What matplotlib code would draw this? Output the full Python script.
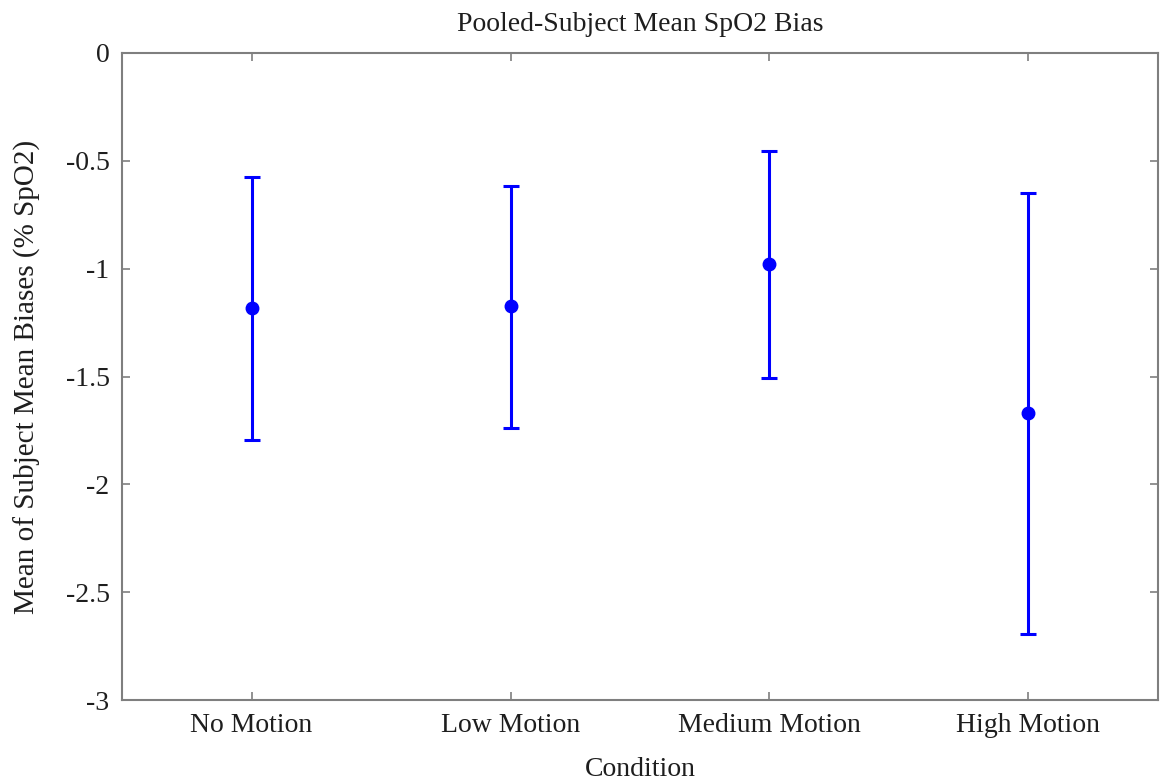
import matplotlib.pyplot as plt
import numpy as np

# Pooled-subject mean SpO2 bias per condition
conditions = ['No Motion', 'Low Motion', 'Medium Motion', 'High Motion']
means = [-1.182, -1.173, -0.978, -1.669]
upper = [-0.575, -0.617, -0.454, -0.649]
lower = [-1.794, -1.739, -1.507, -2.694]

plt.rcParams['font.family'] = ['Liberation Serif', 'DejaVu Serif']

fig = plt.figure(figsize=(11.61, 7.84), dpi=100)
ax = fig.add_axes([0.1051, 0.1071, 0.8923, 0.8253])

x = np.arange(1, len(conditions) + 1)
means_a = np.array(means)
yerr = [means_a - np.array(lower), np.array(upper) - means_a]
ax.errorbar(x, means, yerr=yerr, fmt='o', color='#0000ff', ecolor='#0000ff',
            markersize=9, elinewidth=2.2, capsize=6, capthick=2.2)

ax.set_xlim(0.5, 4.5)
ax.set_ylim(-3, 0)
ax.set_xticks(x)
ax.set_xticklabels(conditions)
ax.set_yticks([0, -0.5, -1, -1.5, -2, -2.5, -3])
ax.set_yticklabels(['0', '-0.5', '-1', '-1.5', '-2', '-2.5', '-3'])

for s in ax.spines.values():
    s.set_color('#7f7f7f')
    s.set_linewidth(1.5)
ax.tick_params(direction='in', length=6, width=1.2, color='#7f7f7f',
               labelsize=20, labelcolor='#1e1e1e', top=True, right=True, pad=9)

ax.set_title('Pooled-Subject Mean SpO2 Bias', fontsize=20, color='#1e1e1e', pad=16)
ax.set_xlabel('Condition', fontsize=20, color='#1e1e1e', labelpad=14)
ax.set_ylabel('Mean of Subject Mean Biases (% SpO2)', fontsize=21, color='#1e1e1e', labelpad=18)

plt.savefig('out.png', dpi=100)
